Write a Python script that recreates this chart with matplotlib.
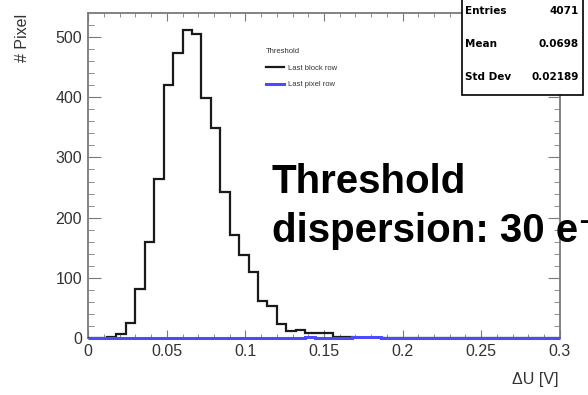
import numpy as np
import matplotlib
matplotlib.use("Agg")
import matplotlib.pyplot as plt
from matplotlib.patches import Rectangle
from matplotlib.ticker import MultipleLocator

plt.rcParams["font.family"] = ["Liberation Sans", "DejaVu Sans"]

# 50 bins from 0 to 0.3 V
bin_edges = np.linspace(0.0, 0.3, 51)

# Last block row (black histogram)
block_counts = [0, 0, 3, 7, 26, 81, 159, 264, 420, 474,
                512, 504, 398, 348, 243, 172, 138, 110, 62, 54,
                24, 12, 13, 8, 8, 8, 3, 3, 0, 0,
                0, 0, 0, 0, 0, 0, 0, 0, 0, 0,
                0, 0, 0, 0, 0, 0, 0, 0, 0, 0]

# Last pixel row (blue histogram, almost empty)
pixel_counts = [0, 0, 0, 0, 0, 0, 0, 0, 0, 0,
                0, 0, 0, 0, 0, 0, 0, 1, 1, 0,
                1, 1, 0, 2, 0, 0, 0, 0, 2, 3,
                2, 0, 0, 1, 0, 0, 0, 0, 0, 0,
                0, 0, 0, 0, 0, 0, 0, 0, 0, 0]

legend_title = "Threshold"
series_labels = ["Last block row", "Last pixel row"]
stats_names = ["Entries", "Mean", "Std Dev"]
stats_values = ["4071", "0.0698", "0.02189"]

fig = plt.figure(figsize=(5.88, 3.95), dpi=100)
ax = fig.add_axes([0.150, 0.1435, 0.802, 0.8228])

frame = "#7a7a7a"

h1 = ax.stairs(block_counts, bin_edges, color="#1a1a1a", lw=1.6,
               label=series_labels[0], zorder=3)
h2 = ax.stairs(pixel_counts, bin_edges, color="#4a4aff", lw=2.2,
               label=series_labels[1], zorder=4, clip_on=False)

ax.set_xlim(0, 0.3)
ax.set_ylim(0, 539)

ax.xaxis.set_major_locator(MultipleLocator(0.05))
ax.xaxis.set_minor_locator(MultipleLocator(0.01))
ax.yaxis.set_major_locator(MultipleLocator(100))
ax.yaxis.set_minor_locator(MultipleLocator(20))
ax.set_xticks(np.arange(0, 0.301, 0.05))
ax.set_xticklabels(["0", "0.05", "0.1", "0.15", "0.2", "0.25", "0.3"])

ax.tick_params(which="both", direction="in", top=True, right=True,
               color=frame, labelsize=11.5, labelcolor="#333333")
ax.tick_params(axis="x", which="major", length=6, pad=4)
ax.tick_params(axis="x", which="minor", length=3)
ax.tick_params(axis="y", which="major", length=9, pad=4.5)
ax.tick_params(axis="y", which="minor", length=4.5)
for s in ax.spines.values():
    s.set_color(frame)
    s.set_linewidth(1.3)

fig.text(0.038, 0.966, "# Pixel", rotation=90, ha="center", va="top",
         fontsize=11.5, color="#333333")
fig.text(0.950, 0.028, "ΔU [V]", ha="right", va="baseline",
         fontsize=11.5, color="#333333")

# legend
leg = ax.legend(handles=[h1, h2], labels=series_labels, title=legend_title,
                loc="upper left", bbox_to_anchor=(0.440, 0.895),
                bbox_transform=fig.transFigure, frameon=False,
                fontsize=5.5, title_fontsize=5.5, handlelength=2.4,
                handletextpad=0.5, labelspacing=1.2, alignment="left")
for t in leg.get_texts():
    t.set_color("#333333")
leg.get_title().set_color("#333333")

# big annotation
big_font = ["Liberation Sans", "DejaVu Sans"]
fig.text(0.462, 1 - 193 / 395, "Threshold", fontsize=29, fontweight="bold",
         family=big_font, va="baseline")
fig.text(0.462, 1 - 242 / 395, "dispersion: 30 e⁻", fontsize=29,
         fontweight="bold", family=big_font, va="baseline")

# stats box (partly cut off at the top of the picture)
box = Rectangle((462 / 588, 1 - 95 / 395), (583 - 462) / 588, 0.3,
                transform=fig.transFigure, facecolor="white",
                edgecolor="black", lw=1.2, zorder=5)
fig.patches.append(box)
stat_font = ["DejaVu Sans"]
for i, (name, val) in enumerate(zip(stats_names, stats_values)):
    y = 1 - (11 + 33 * i) / 395
    fig.text(465 / 588, y, name, fontsize=7.5, fontweight="bold",
             family=stat_font, va="center", ha="left", zorder=6)
    fig.text(579 / 588, y, val, fontsize=7.5, fontweight="bold",
             family=stat_font, va="center", ha="right", zorder=6)

fig.savefig("out.png", dpi=100)
